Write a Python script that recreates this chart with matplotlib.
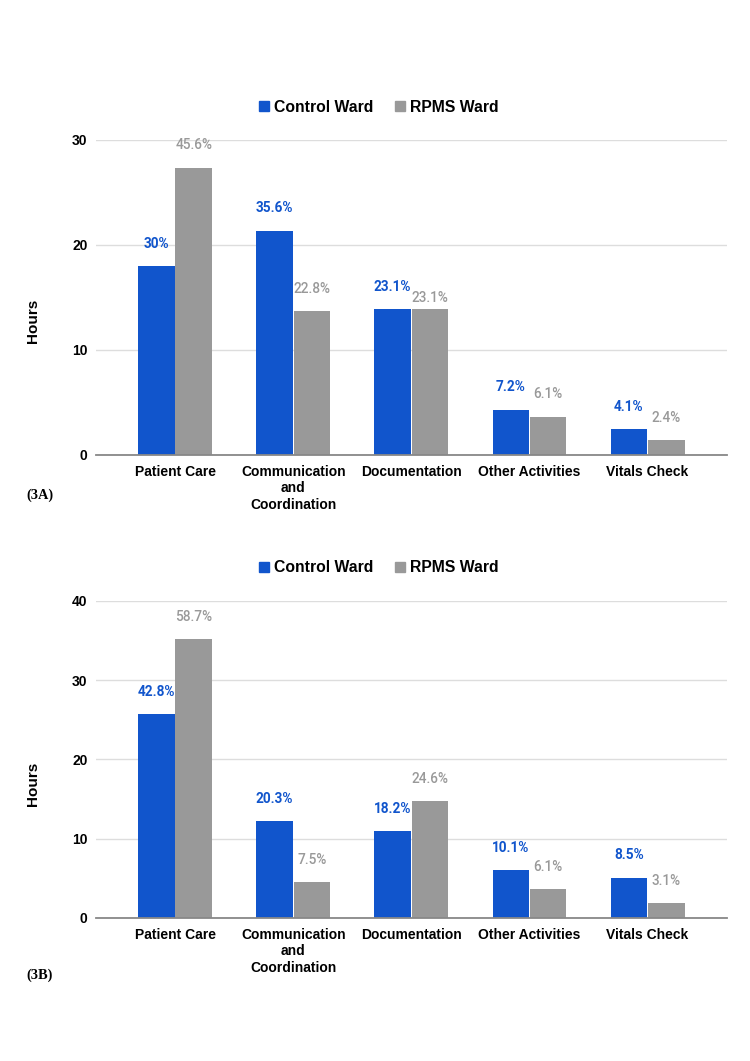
import matplotlib
matplotlib.use("Agg")
import matplotlib.pyplot as plt
import numpy as np
from matplotlib.lines import Line2D

categories = ["Patient Care", "Communication\nand\nCoordination", "Documentation",
              "Other Activities", "Vitals Check"]
series = ["Control Ward", "RPMS Ward"]

# panel 3A (hours)
control_a = [18.0, 21.36, 13.86, 4.32, 2.46]
rpms_a = [27.36, 13.68, 13.86, 3.66, 1.44]
control_a_lbl = ["30%", "35.6%", "23.1%", "7.2%", "4.1%"]
rpms_a_lbl = ["45.6%", "22.8%", "23.1%", "6.1%", "2.4%"]

# panel 3B (hours)
control_b = [25.68, 12.18, 10.92, 6.06, 5.1]
rpms_b = [35.22, 4.5, 14.76, 3.66, 1.86]
control_b_lbl = ["42.8%", "20.3%", "18.2%", "10.1%", "8.5%"]
rpms_b_lbl = ["58.7%", "7.5%", "24.6%", "6.1%", "3.1%"]

BLUE = "#1155cc"
GRAY = "#999999"
SANS = ["Liberation Sans", "DejaVu Sans"]
LBL = ["Roboto", "DejaVu Sans"]

fig = plt.figure(figsize=(7.5, 10.61), dpi=100)


def draw(rect, ctrl, rpms, ctrl_lbl, rpms_lbl, ymax, tag, tag_y, hours_y, leg_y):
    ax = fig.add_axes(rect)
    x = np.arange(len(categories))
    w = 0.31
    ax.bar(x - 0.158, ctrl, w, color=BLUE, zorder=3)
    ax.bar(x + 0.158, rpms, w, color=GRAY, zorder=3)
    for i in range(len(x)):
        ax.annotate(ctrl_lbl[i], (x[i] - 0.158, ctrl[i]), xytext=(0, 16),
                    textcoords="offset points", ha="center", va="center",
                    color=BLUE, fontsize=9.8, fontweight="bold", family=LBL)
        off = 8 if abs(ctrl[i] - rpms[i]) < 0.5 else 16
        ax.annotate(rpms_lbl[i], (x[i] + 0.158, rpms[i]), xytext=(0, off),
                    textcoords="offset points", ha="center", va="center",
                    color=GRAY, fontsize=9.8, fontweight="medium", family=LBL)
    ax.set_xlim(-0.67, 4.67)
    ax.set_ylim(0, ymax)
    ax.set_yticks(np.arange(0, ymax + 1, 10))
    ax.set_xticks(x)
    ax.set_xticklabels(categories, fontsize=10, fontweight="bold", family=SANS,
                       linespacing=1.25, va="top")
    for t in ax.get_yticklabels():
        t.set_fontsize(10)
        t.set_fontweight("bold")
        t.set_family(SANS)
    ax.tick_params(length=0, pad=7)
    ax.tick_params(axis="y", pad=6)
    ax.grid(axis="y", color="#dddddd", lw=1, zorder=0)
    for s in ["top", "right", "left"]:
        ax.spines[s].set_visible(False)
    ax.spines["bottom"].set_color("#888888")
    ax.spines["bottom"].set_linewidth(1.3)
    ax.spines["bottom"].set_zorder(4)

    handles = [Line2D([], [], ls="", marker="s", ms=7.5, color=BLUE),
               Line2D([], [], ls="", marker="s", ms=7.5, color=GRAY)]
    fig.legend(handles, series, loc="center", bbox_to_anchor=(0.503, leg_y), ncol=2,
               frameon=False, handletextpad=0.15, columnspacing=1.2, handlelength=1.0,
               prop={"family": SANS, "weight": "bold", "size": 11.3})
    fig.text(0.044, hours_y, "Hours", rotation=90, ha="center", va="center",
             fontsize=11, fontweight="bold", family=SANS)
    fig.text(0.035, tag_y, tag, ha="left", va="center", fontsize=10.4,
             fontweight="bold", family=["Liberation Serif", "DejaVu Serif"])
    return ax


draw([0.128, 0.5712, 0.841, 0.2969], control_a, rpms_a, control_a_lbl, rpms_a_lbl,
     30, "(3A)", 1 - 495 / 1061, 1 - 321 / 1061, 1 - 107 / 1061)
draw([0.128, 0.1348, 0.841, 0.2988], control_b, rpms_b, control_b_lbl, rpms_b_lbl,
     40, "(3B)", 1 - 975 / 1061, 1 - 784 / 1061, 1 - 568 / 1061)

fig.savefig("out.png", dpi=100)
